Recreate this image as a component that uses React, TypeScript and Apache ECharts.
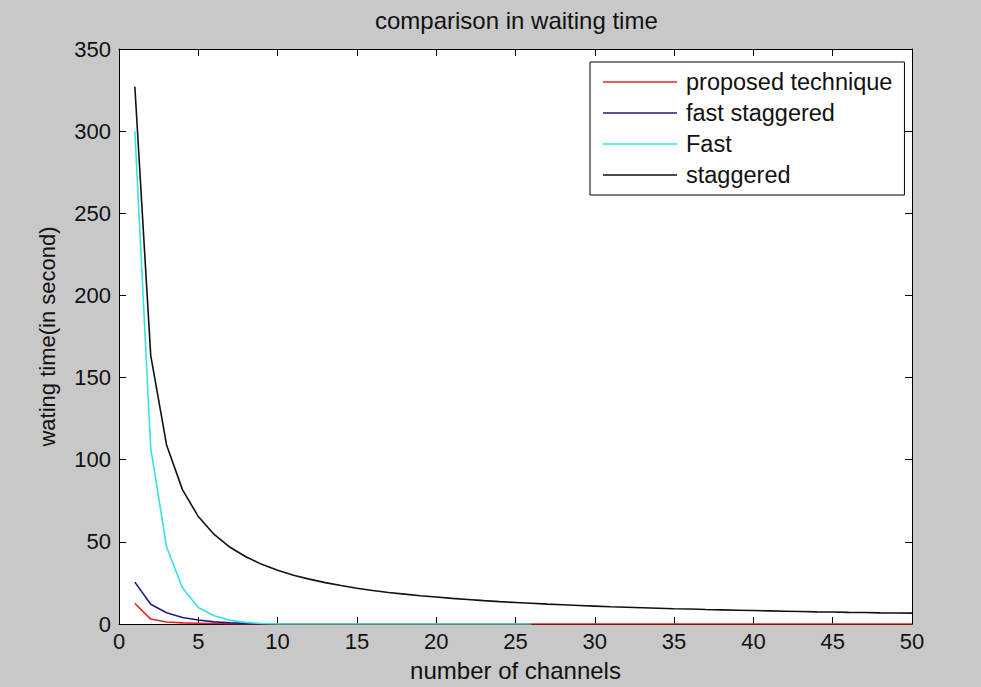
import React, { useEffect, useRef } from "react";
import * as echarts from "echarts";

const channels = [
  1, 2, 3, 4, 5, 6, 7, 8, 9, 10, 11, 12, 13, 14, 15, 16, 17, 18, 19, 20, 21, 22, 23, 24, 25,
  26, 27, 28, 29, 30, 31, 32, 33, 34, 35, 36, 37, 38, 39, 40, 41, 42, 43, 44, 45, 46, 47, 48, 49, 50,
];

const proposedTechnique = [
  12.5, 3, 1.2, 0.7, 0.5, 0.3, 0.2, 0.1, 0, 0, 0, 0, 0, 0, 0, 0, 0, 0, 0, 0, 0, 0, 0, 0, 0,
  0, 0, 0, 0, 0, 0, 0, 0, 0, 0, 0, 0, 0, 0, 0, 0, 0, 0, 0, 0, 0, 0, 0, 0, 0,
];

const fastStaggered = [25.5, 12, 6.8, 4, 2.4, 1.3, 0.8, 0.4, 0];

const fast = [
  300, 107, 47, 22, 10, 5, 2.2, 1, 0.3, 0, 0, 0, 0, 0, 0, 0, 0, 0, 0, 0, 0, 0, 0, 0, 0, 0,
];

const staggered = [
  327, 163.5, 109, 81.8, 65.4, 54.5, 46.7, 40.9, 36.3, 32.7, 29.7, 27.3, 25.2, 23.4, 21.8,
  20.4, 19.2, 18.2, 17.2, 16.4, 15.6, 14.9, 14.2, 13.6, 13.1, 12.6, 12.1, 11.7, 11.3, 10.9,
  10.5, 10.2, 9.9, 9.6, 9.3, 9.1, 8.8, 8.6, 8.4, 8.2, 8.0, 7.8, 7.6, 7.4, 7.3, 7.1, 7.0,
  6.8, 6.7, 6.6,
];

const seriesNames = ["proposed technique", "fast staggered", "Fast", "staggered"];
const seriesColors = ["#e02626", "#1c1c86", "#38e2e2", "#111111"];

const FONT = "'Liberation Sans', Arial, Helvetica, sans-serif";

function pairs(values: number[]) {
  return values.map((v, i) => [channels[i], v]);
}

export default function App() {
  const ref = useRef<HTMLDivElement>(null);

  useEffect(() => {
    if (!ref.current) return;
    const chart = echarts.init(ref.current, null, { renderer: "svg" });
    const allValues = [proposedTechnique, fastStaggered, fast, staggered];

    const axisLine = { show: true, onZero: false, lineStyle: { color: "#000", width: 1 } };
    const axisTick = { show: true, inside: true, length: 7, lineStyle: { color: "#000", width: 1 } };

    chart.setOption({
      animation: false,
      backgroundColor: "#c8c8c8",
      textStyle: { fontFamily: FONT },
      title: {
        text: "comparison in waiting time",
        left: 375,
        top: 8,
        padding: 0,
        textStyle: { fontFamily: FONT, fontSize: 24, fontWeight: "normal", color: "#111" },
      },
      grid: {
        left: 119,
        top: 49,
        right: 69,
        bottom: 61,
        show: true,
        backgroundColor: "#ffffff",
        borderWidth: 0,
      },
      legend: {
        orient: "vertical",
        left: 590,
        top: 62,
        data: seriesNames,
        icon: "rect",
        itemWidth: 74,
        itemHeight: 1.5,
        itemGap: 7,
        padding: [8, 12, 8, 13],
        backgroundColor: "#ffffff",
        borderColor: "#000",
        borderWidth: 1,
        borderRadius: 0,
        textStyle: {
          fontFamily: FONT,
          fontSize: 23.5,
          color: "#111",
          lineHeight: 24,
          padding: [0, 0, 0, 4],
        },
      },
      xAxis: [
        {
          type: "value",
          position: "bottom",
          min: 0,
          max: 50,
          interval: 5,
          name: "number of channels",
          nameLocation: "middle",
          nameGap: 34,
          nameTextStyle: { fontFamily: FONT, fontSize: 24, color: "#111", verticalAlign: "top" },
          axisLine,
          axisTick,
          splitLine: { show: false },
          axisLabel: { fontFamily: FONT, fontSize: 22, color: "#111", margin: 6 },
        },
        {
          type: "value",
          position: "top",
          min: 0,
          max: 50,
          interval: 5,
          axisLine,
          axisTick,
          splitLine: { show: false },
          axisLabel: { show: false },
        },
      ],
      yAxis: [
        {
          type: "value",
          position: "left",
          min: 0,
          max: 350,
          interval: 50,
          name: "wating time(in second)",
          nameLocation: "middle",
          nameGap: 61,
          nameTextStyle: { fontFamily: FONT, fontSize: 22, color: "#111" },
          axisLine,
          axisTick,
          splitLine: { show: false },
          axisLabel: { fontFamily: FONT, fontSize: 22, color: "#111", margin: 8 },
        },
        {
          type: "value",
          position: "right",
          min: 0,
          max: 350,
          interval: 50,
          axisLine,
          axisTick,
          splitLine: { show: false },
          axisLabel: { show: false },
        },
      ],
      series: seriesNames.map((name, i) => ({
        name,
        type: "line",
        xAxisIndex: 0,
        yAxisIndex: 0,
        data: pairs(allValues[i]),
        showSymbol: false,
        symbol: "none",
        color: seriesColors[i],
        lineStyle: { color: seriesColors[i], width: 1.6 },
      })),
    });

    return () => chart.dispose();
  }, []);

  return (
    <div
      ref={ref}
      style={{ position: "absolute", left: 0, top: 0, width: 981, height: 687 }}
    />
  );
}
